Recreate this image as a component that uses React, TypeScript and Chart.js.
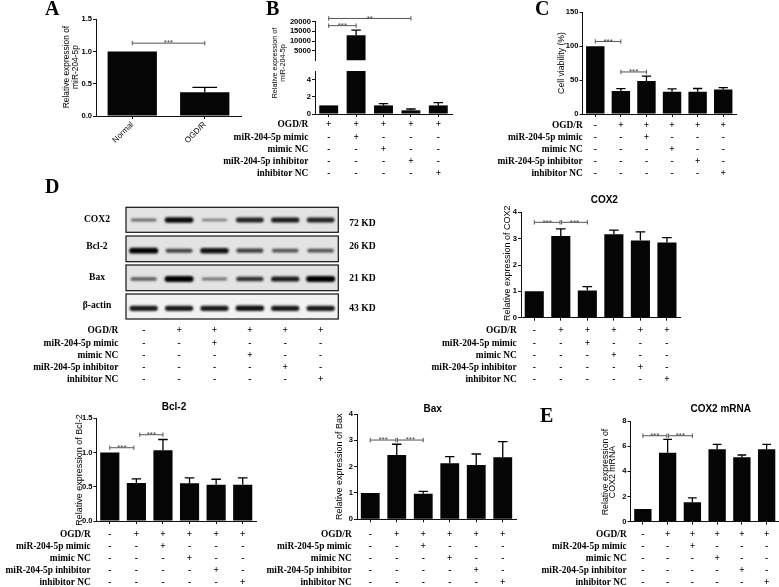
import React, { useEffect, useRef } from 'react';
import { Chart, registerables } from 'chart.js';

Chart.register(...registerables);

const SANS = '"Liberation Sans", Arial, sans-serif';
const SERIF = '"Liberation Serif", "Times New Roman", serif';

// ---------------- data ----------------
const aCategories = ['Normal', 'OGD/R'];
const aValues = [1.0, 0.37];
const aErrors = [0, 0.075];
const aTicks = [0, 0.5, 1.0, 1.5];

const bCategories = ['g1', 'g2', 'g3', 'g4', 'g5'];
const bValues = [1, 13000, 1.0, 0.43, 1.0];
const bErrors = [0, 2700, 0.2, 0.15, 0.33];
const bUpperTicks = [5000, 10000, 15000, 20000];
const bLowerTicks = [0, 1, 2, 3, 4, 5];

const groups6 = ['g1', 'g2', 'g3', 'g4', 'g5', 'g6'];
const cValues = [100, 34, 48.8, 32.7, 32.7, 36];
const cErrors = [0, 3.5, 7.2, 4.3, 4.9, 3];
const cTicks = [0, 50, 100, 150];

const cox2Values = [1, 3.1, 1.03, 3.17, 2.93, 2.85];
const cox2Errors = [0, 0.27, 0.15, 0.15, 0.33, 0.19];
const cox2Ticks = [0, 1, 2, 3, 4];

const bcl2Values = [1, 0.555, 1.035, 0.55, 0.53, 0.53];
const bcl2Errors = [0, 0.06, 0.155, 0.08, 0.08, 0.1];
const bcl2Ticks = [0, 0.5, 1.0, 1.5];

const baxValues = [1, 2.44, 0.97, 2.13, 2.06, 2.36];
const baxErrors = [0, 0.41, 0.09, 0.25, 0.42, 0.59];
const baxTicks = [0, 1, 2, 3, 4];

const mrnaValues = [1, 5.48, 1.54, 5.75, 5.12, 5.75];
const mrnaErrors = [0, 1.06, 0.36, 0.4, 0.18, 0.4];
const mrnaTicks = [0, 2, 4, 6, 8];

const conditionRows = ['OGD/R', 'miR-204-5p mimic', 'mimic NC', 'miR-204-5p inhibitor', 'inhibitor NC'];
const signsB = [
  ['+', '+', '+', '+', '+'],
  ['-', '+', '-', '-', '-'],
  ['-', '-', '+', '-', '-'],
  ['-', '-', '-', '+', '-'],
  ['-', '-', '-', '-', '+'],
];
const signs6 = [
  ['-', '+', '+', '+', '+', '+'],
  ['-', '-', '+', '-', '-', '-'],
  ['-', '-', '-', '+', '-', '-'],
  ['-', '-', '-', '-', '+', '-'],
  ['-', '-', '-', '-', '-', '+'],
];

const blotLanes = ['l1', 'l2', 'l3', 'l4', 'l5', 'l6'];
const blotProteins = ['COX2', 'Bcl-2', 'Bax', 'β-actin'];
const blotWeights = ['72 KD', '26 KD', '21 KD', '43 KD'];
const blotCox2 = [0.35, 0.95, 0.25, 0.8, 0.85, 0.8];
const blotBcl2 = [1.0, 0.6, 0.9, 0.62, 0.5, 0.5];
const blotBax = [0.45, 1.0, 0.3, 0.7, 0.85, 1.0];
const blotActin = [0.85, 0.85, 0.85, 0.9, 0.85, 0.85];

// ---------------- types ----------------
type Box = { left: number; top: number; width: number; height: number };
type Area = { L: number; T: number; R: number; B: number };
type Bracket = { a: number; b: number; v: number; text: string; ia?: number; ib?: number };
type Table = { signs: string[][]; right: number; y0: number; dy: number };

interface PanelSpec {
  box: Box;
  area: Area;
  labels: string[];
  values: number[];
  errors: number[];
  ticks: number[];
  min: number;
  max: number;
  decimals?: number;
  barPct?: number;
  xLabels?: boolean;
  xAxis?: boolean;
  errFilter?: (v: number) => boolean;
  brackets?: Bracket[];
  yTitle?: { lines: string[]; xs: number[]; y: number; size: number };
  title?: { text: string; x: number; y: number };
  letter?: { text: string; x: number; y: number };
  table?: Table;
}

function drawTable(ctx: any, xs: any, t: Table, ox: number, oy: number) {
  ctx.save();
  ctx.fillStyle = '#000';
  ctx.font = `bold 9.4px ${SERIF}`;
  ctx.textBaseline = 'middle';
  conditionRows.forEach((label, r) => {
    const y = t.y0 + r * t.dy - oy;
    ctx.textAlign = 'right';
    ctx.fillText(label, t.right - ox, y);
    ctx.textAlign = 'center';
    t.signs[r].forEach((s, i) => {
      ctx.fillText(s, xs.getPixelForValue(i), y);
    });
  });
  ctx.restore();
}

function drawLetter(ctx: any, l: { text: string; x: number; y: number }, ox: number, oy: number) {
  ctx.save();
  ctx.fillStyle = '#000';
  ctx.font = `bold 20px ${SERIF}`;
  ctx.textAlign = 'left';
  ctx.textBaseline = 'alphabetic';
  ctx.fillText(l.text, l.x - ox, l.y - oy);
  ctx.restore();
}

function decorPlugin(p: PanelSpec) {
  return {
    id: 'decor',
    afterDraw(chart: any) {
      const ctx = chart.ctx;
      const ox = p.box.left;
      const oy = p.box.top;
      const xs = chart.scales.x;
      const ys = chart.scales.y;
      const meta = chart.getDatasetMeta(0);
      ctx.save();
      // error bars
      ctx.strokeStyle = '#000';
      ctx.lineWidth = 1.3;
      meta.data.forEach((el: any, i: number) => {
        const v = p.values[i];
        const e = p.errors[i];
        if (!e) return;
        if (p.errFilter && !p.errFilter(v)) return;
        const top = ys.getPixelForValue(v + e);
        const w = el.width * 0.5;
        ctx.beginPath();
        ctx.moveTo(el.x, ys.getPixelForValue(v));
        ctx.lineTo(el.x, top);
        ctx.moveTo(el.x - w / 2, top);
        ctx.lineTo(el.x + w / 2, top);
        ctx.stroke();
      });
      // brackets
      (p.brackets || []).forEach((b) => {
        const xa = xs.getPixelForValue(b.a) + (b.ia || 0);
        const xb = xs.getPixelForValue(b.b) - (b.ib || 0);
        const y = ys.getPixelForValue(b.v);
        ctx.strokeStyle = '#555';
        ctx.lineWidth = 1;
        ctx.beginPath();
        ctx.moveTo(xa, y);
        ctx.lineTo(xb, y);
        ctx.moveTo(xa, y - 2.2);
        ctx.lineTo(xa, y + 2.2);
        ctx.moveTo(xb, y - 2.2);
        ctx.lineTo(xb, y + 2.2);
        ctx.stroke();
        ctx.fillStyle = '#444';
        ctx.font = `8px ${SANS}`;
        ctx.textAlign = 'center';
        ctx.textBaseline = 'alphabetic';
        ctx.fillText(b.text, (xa + xb) / 2, y + 2.2);
      });
      // y title
      if (p.yTitle) {
        const t = p.yTitle;
        ctx.fillStyle = '#000';
        ctx.font = `${t.size}px ${SANS}`;
        ctx.textAlign = 'center';
        ctx.textBaseline = 'middle';
        t.lines.forEach((line, k) => {
          ctx.save();
          ctx.translate(t.xs[k] - ox, t.y - oy);
          ctx.rotate(-Math.PI / 2);
          ctx.fillText(line, 0, 0);
          ctx.restore();
        });
      }
      if (p.title) {
        ctx.fillStyle = '#000';
        ctx.font = `bold 10px ${SANS}`;
        ctx.textAlign = 'center';
        ctx.textBaseline = 'middle';
        ctx.fillText(p.title.text, p.title.x - ox, p.title.y - oy);
      }
      ctx.restore();
      if (p.letter) drawLetter(ctx, p.letter, ox, oy);
      if (p.table) drawTable(ctx, xs, p.table, ox, oy);
    },
  };
}

function buildConfig(p: PanelSpec): any {
  const { box, area } = p;
  const showX = p.xAxis !== false;
  return {
    type: 'bar',
    data: {
      labels: p.labels,
      datasets: [
        {
          data: p.values,
          backgroundColor: '#050505',
          borderWidth: 0,
          barPercentage: p.barPct ?? 0.71,
          categoryPercentage: 1,
        },
      ],
    },
    options: {
      animation: false,
      responsive: true,
      maintainAspectRatio: false,
      events: [],
      layout: {
        padding: {
          left: 0,
          top: area.T - box.top,
          right: box.left + box.width - area.R,
          bottom: showX ? 0 : box.top + box.height - area.B,
        },
      },
      plugins: { legend: { display: false }, tooltip: { enabled: false } },
      scales: {
        x: {
          display: showX,
          grid: { display: true, drawOnChartArea: false, drawTicks: true, tickLength: 3, offset: false, color: '#111', lineWidth: 1 },
          border: { display: true, color: '#111', width: 1 },
          ticks: p.xLabels
            ? { display: true, autoSkip: false, maxRotation: 45, minRotation: 45, padding: 1, color: '#000', font: { family: SANS, size: 8 } }
            : { display: false },
          afterFit: (s: any) => {
            s.height = box.top + box.height - area.B;
          },
        },
        y: {
          min: p.min,
          max: p.max,
          afterBuildTicks: (s: any) => {
            s.ticks = p.ticks.map((v) => ({ value: v }));
          },
          ticks: {
            padding: 1,
            color: '#000',
            font: { family: SANS, size: 7.6, weight: 'bold' },
            callback: (v: any) => Number(v).toFixed(p.decimals ?? 0),
          },
          grid: { display: true, drawOnChartArea: false, drawTicks: true, tickLength: 3, color: '#111', lineWidth: 1 },
          border: { display: true, color: '#111', width: 1 },
          afterFit: (s: any) => {
            s.width = area.L - box.left;
          },
        },
      },
    },
    plugins: [decorPlugin(p)],
  };
}

// ---------------- panels ----------------
const PANELS: PanelSpec[] = [
  {
    box: { left: 30, top: 0, width: 225, height: 150 },
    area: { L: 96, T: 19.3, R: 241, B: 116 },
    labels: aCategories,
    values: aValues,
    errors: aErrors,
    ticks: aTicks,
    min: 0,
    max: 1.5,
    decimals: 1,
    barPct: 0.68,
    xLabels: true,
    brackets: [{ a: 0, b: 1, v: 1.13, text: '***' }],
    yTitle: { lines: ['Relative expression of', 'miR-204-5p'], xs: [67, 75.5], y: 67, size: 8.4 },
    letter: { text: 'A', x: 45, y: 15 },
  },
  {
    box: { left: 260, top: 0, width: 200, height: 66 },
    area: { L: 315, T: 21.7, R: 452, B: 64.8 },
    labels: bCategories,
    values: bValues,
    errors: bErrors,
    ticks: bUpperTicks,
    min: 0,
    max: 20000,
    barPct: 0.69,
    xAxis: false,
    errFilter: (v) => v > 5,
    brackets: [
      { a: 0, b: 1, v: 17960, text: '***' },
      { a: 0, b: 3, v: 21670, text: '**' },
    ],
    letter: { text: 'B', x: 266, y: 15 },
  },
  {
    box: { left: 200, top: 0, width: 260, height: 185 },
    area: { L: 315, T: 71, R: 452, B: 114 },
    labels: bCategories,
    values: bValues,
    errors: bErrors,
    ticks: bLowerTicks,
    min: 0,
    max: 5,
    barPct: 0.69,
    errFilter: (v) => v <= 5,
    yTitle: { lines: ['Relative expression of', 'miR-204-5p'], xs: [275, 283], y: 63, size: 7.2 },
    table: { signs: signsB, right: 308.3, y0: 125, dy: 12.25 },
  },
  {
    box: { left: 478, top: 0, width: 301, height: 185 },
    area: { L: 582.5, T: 12.3, R: 736, B: 114 },
    labels: groups6,
    values: cValues,
    errors: cErrors,
    ticks: cTicks,
    min: 0,
    max: 150,
    barPct: 0.72,
    brackets: [
      { a: 0, b: 1, v: 107, text: '***' },
      { a: 1, b: 2, v: 62, text: '***' },
    ],
    yTitle: { lines: ['Cell viability (%)'], xs: [561.7], y: 63, size: 8.7 },
    letter: { text: 'C', x: 535, y: 15 },
    table: { signs: signs6, right: 582.7, y0: 125.5, dy: 12 },
  },
  {
    box: { left: 400, top: 185, width: 285, height: 200 },
    area: { L: 521, T: 212.3, R: 680.2, B: 317.7 },
    labels: groups6,
    values: cox2Values,
    errors: cox2Errors,
    ticks: cox2Ticks,
    min: 0,
    max: 4,
    barPct: 0.72,
    brackets: [
      { a: 0, b: 1, v: 3.62, text: '***', ib: 0.8 },
      { a: 1, b: 2, v: 3.62, text: '***', ia: 0.8 },
    ],
    yTitle: { lines: ['Relative expression of COX2'], xs: [507.7], y: 263.3, size: 9 },
    title: { text: 'COX2', x: 604.3, y: 200 },
    table: { signs: signs6, right: 516.7, y0: 330.8, dy: 12.3 },
  },
  {
    box: { left: 0, top: 395, width: 262, height: 192 },
    area: { L: 96.5, T: 418.3, R: 256, B: 521 },
    labels: groups6,
    values: bcl2Values,
    errors: bcl2Errors,
    ticks: bcl2Ticks,
    min: 0,
    max: 1.5,
    decimals: 1,
    barPct: 0.72,
    brackets: [
      { a: 0, b: 1, v: 1.07, text: '***', ib: 2.5 },
      { a: 1, b: 2, v: 1.26, text: '***', ia: 3.4 },
    ],
    yTitle: { lines: ['Relative expression of Bcl-2'], xs: [80], y: 470, size: 9 },
    title: { text: 'Bcl-2', x: 174, y: 407.3 },
    table: { signs: signs6, right: 90.7, y0: 534.5, dy: 11.95 },
  },
  {
    box: { left: 245, top: 395, width: 275, height: 192 },
    area: { L: 357, T: 414, R: 516, B: 519.3 },
    labels: groups6,
    values: baxValues,
    errors: baxErrors,
    ticks: baxTicks,
    min: 0,
    max: 4,
    barPct: 0.71,
    brackets: [
      { a: 0, b: 1, v: 3.01, text: '***', ib: 0.8 },
      { a: 1, b: 2, v: 3.01, text: '***', ia: 0.8 },
    ],
    yTitle: { lines: ['Relative expression of Bax'], xs: [340], y: 466.7, size: 9 },
    title: { text: 'Bax', x: 432.7, y: 409 },
    table: { signs: signs6, right: 351.7, y0: 534.8, dy: 11.9 },
  },
  {
    box: { left: 505, top: 395, width: 274, height: 192 },
    area: { L: 630.5, T: 421, R: 779, B: 521.7 },
    labels: groups6,
    values: mrnaValues,
    errors: mrnaErrors,
    ticks: mrnaTicks,
    min: 0,
    max: 8,
    barPct: 0.7,
    brackets: [
      { a: 0, b: 1, v: 6.83, text: '***', ib: 0.8 },
      { a: 1, b: 2, v: 6.83, text: '***', ia: 0.8 },
    ],
    yTitle: { lines: ['Relative expression of', 'COX2 mRNA'], xs: [605.5, 613], y: 472, size: 8.8 },
    title: { text: 'COX2 mRNA', x: 720.7, y: 409 },
    letter: { text: 'E', x: 540, y: 422 },
    table: { signs: signs6, right: 626.7, y0: 535, dy: 11.95 },
  },
];

// ---------------- blot (panel D) ----------------
const BLOT = {
  box: { left: 0, top: 170, width: 390, height: 220 },
  area: { L: 126, T: 207.3, R: 338.3, B: 319 },
  rowsY: [
    [207.3, 232.3],
    [236, 261.7],
    [265, 290.7],
    [294, 319],
  ],
  bandY: [220, 250.7, 279, 308.3],
  proteinX: 97,
  proteinY: [220, 247, 277.5, 306],
  weightX: 349.3,
  weightY: [223.3, 246.7, 279, 308.3],
  table: { signs: signs6, right: 118.3, y0: 331, dy: 12.25 },
  letter: { text: 'D', x: 45, y: 193 },
};

function blotPlugin() {
  return {
    id: 'blot',
    afterDraw(chart: any) {
      const ctx = chart.ctx;
      const xs = chart.scales.x;
      const ca = chart.chartArea;
      const ox = BLOT.box.left;
      const oy = BLOT.box.top;
      const bands = [blotCox2, blotBcl2, blotBax, blotActin];
      bands.forEach((vals, r) => {
        const [y1, y2] = BLOT.rowsY[r];
        const top = y1 - oy;
        const h = y2 - y1;
        ctx.save();
        ctx.fillStyle = r === 3 ? '#f2f2f2' : '#e3e3e3';
        ctx.fillRect(ca.left, top, ca.right - ca.left, h);
        ctx.filter = 'blur(0.9px)';
        vals.forEach((k, i) => {
          const cx = xs.getPixelForValue(i);
          const cy = BLOT.bandY[r] - oy;
          const w = 24 + 5 * k;
          const bh = 1.6 + 4.2 * k;
          const g = Math.round(160 * (1 - k));
          ctx.fillStyle = `rgb(${g},${g},${g})`;
          ctx.beginPath();
          ctx.roundRect(cx - w / 2, cy - bh / 2, w, bh, bh / 2);
          ctx.fill();
        });
        ctx.restore();
        ctx.save();
        ctx.strokeStyle = '#111';
        ctx.lineWidth = 1.2;
        ctx.strokeRect(ca.left, top, ca.right - ca.left, h);
        ctx.fillStyle = '#000';
        ctx.font = `bold 9.6px ${SERIF}`;
        ctx.textBaseline = 'middle';
        ctx.textAlign = 'center';
        ctx.fillText(blotProteins[r], BLOT.proteinX - ox, BLOT.proteinY[r] - oy);
        ctx.textAlign = 'left';
        ctx.fillText(blotWeights[r], BLOT.weightX - ox, BLOT.weightY[r] - oy);
        ctx.restore();
      });
      drawLetter(ctx, BLOT.letter, ox, oy);
      drawTable(ctx, xs, BLOT.table, ox, oy);
    },
  };
}

function blotConfig(): any {
  const { box, area } = BLOT;
  return {
    type: 'bar',
    data: { labels: blotLanes, datasets: [] },
    options: {
      animation: false,
      responsive: true,
      maintainAspectRatio: false,
      events: [],
      layout: {
        padding: {
          left: area.L - box.left,
          top: area.T - box.top,
          right: box.left + box.width - area.R,
          bottom: box.top + box.height - area.B,
        },
      },
      plugins: { legend: { display: false }, tooltip: { enabled: false } },
      scales: {
        x: { display: false, offset: true },
        y: { display: false },
      },
    },
    plugins: [blotPlugin()],
  };
}

export default function App() {
  const refs = useRef<(HTMLCanvasElement | null)[]>([]);
  const blotRef = useRef<HTMLCanvasElement | null>(null);
  useEffect(() => {
    const charts: Chart[] = [];
    PANELS.forEach((p, i) => {
      const c = refs.current[i];
      if (c) charts.push(new Chart(c, buildConfig(p)));
    });
    if (blotRef.current) charts.push(new Chart(blotRef.current, blotConfig()));
    return () => charts.forEach((c) => c.destroy());
  }, []);
  return (
    <div style={{ position: 'fixed', left: 0, top: 0, width: 779, height: 587, background: '#fff', overflow: 'hidden' }}>
      <div style={{ position: 'absolute', left: BLOT.box.left, top: BLOT.box.top, width: BLOT.box.width, height: BLOT.box.height }}>
        <canvas ref={blotRef} />
      </div>
      {PANELS.map((p, i) => (
        <div key={i} style={{ position: 'absolute', left: p.box.left, top: p.box.top, width: p.box.width, height: p.box.height }}>
          <canvas
            ref={(el) => {
              refs.current[i] = el;
            }}
          />
        </div>
      ))}
    </div>
  );
}
